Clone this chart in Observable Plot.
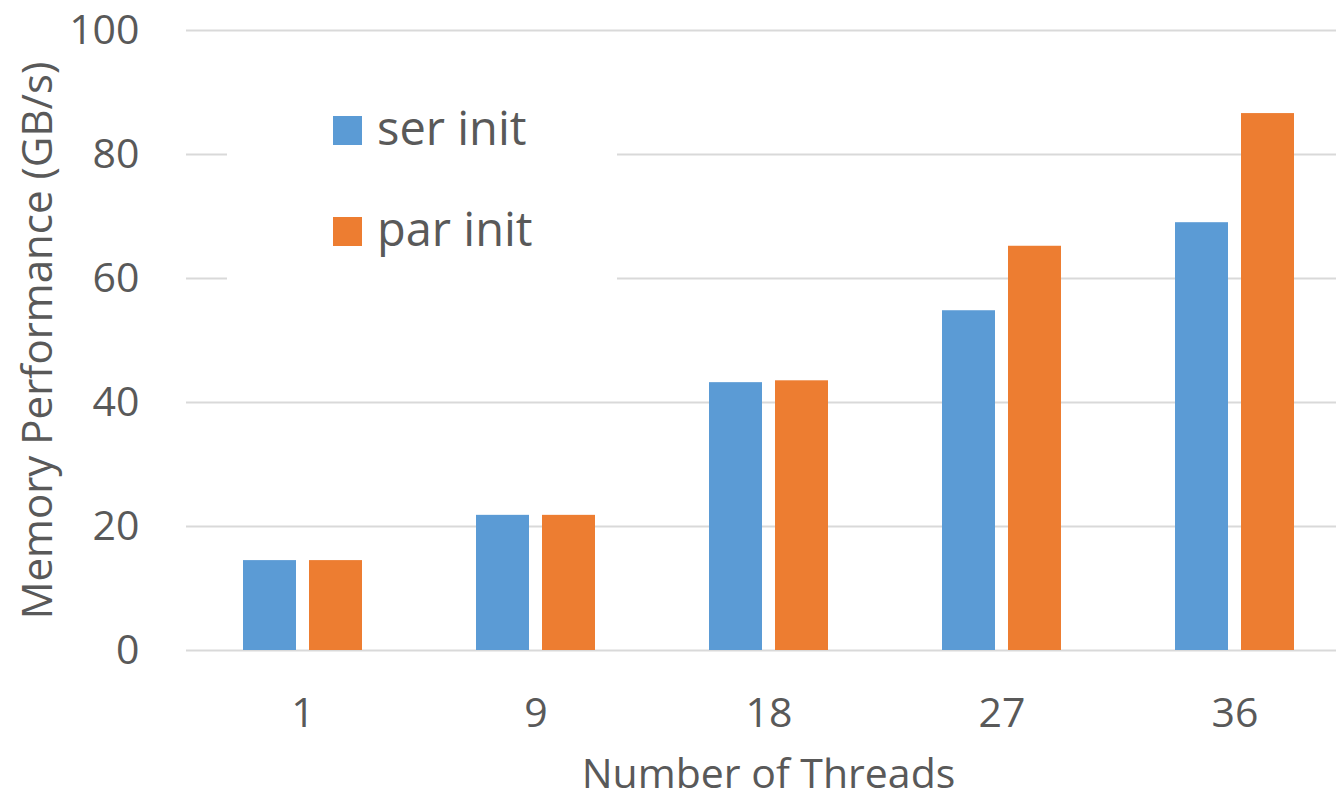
<!DOCTYPE html>
<html>
<head>
<meta charset="utf-8">
<script src="https://cdn.jsdelivr.net/npm/d3@7"></script>
<script src="https://cdn.jsdelivr.net/npm/@observablehq/plot@0.6"></script>
<style>
  html, body { margin: 0; padding: 0; background: #fff; }
  #wrap { position: relative; width: 1336px; height: 797px; overflow: hidden; }
  #legend { position: absolute; left: 0; top: 0; }
</style>
</head>
<body>
<div id="wrap"></div>
<script>
// ---- data ----
const threads = ["1", "9", "18", "27", "36"];
const seriesNames = ["ser init", "par init"];
const serInit = [14.5, 21.8, 43.2, 54.8, 69.0];
const parInit = [14.5, 21.8, 43.5, 65.2, 86.6];
const seriesColors = ["#5B9BD5", "#ED7D31"];
const yTicks = [0, 20, 40, 60, 80, 100];

const serRows = threads.map((t, i) => ({threads: t, series: seriesNames[0], value: serInit[i]}));
const parRows = threads.map((t, i) => ({threads: t, series: seriesNames[1], value: parInit[i]}));

const textColor = "#595959";
const font = "'Open Sans', 'Noto Sans', sans-serif";

const chart = Plot.plot({
  width: 1336,
  height: 797,
  marginLeft: 186,
  marginRight: 0,
  marginTop: 30,
  marginBottom: 147,
  style: {fontFamily: font, fontSize: "41px", color: textColor, background: "#fff"},
  x: {domain: threads, range: [186, 1351], padding: 0, tickSize: 0, tickPadding: 47, label: null},
  y: {domain: [0, 100], ticks: yTicks, tickSize: 0, tickPadding: 47, label: null},
  color: {domain: seriesNames, range: seriesColors},
  marks: [
    Plot.ruleY(yTicks, {stroke: "#d9d9d9", strokeWidth: 2}),
    Plot.barY(serRows, {x: "threads", y: "value", fill: "series", insetLeft: 57, insetRight: 123}),
    Plot.barY(parRows, {x: "threads", y: "value", fill: "series", insetLeft: 123, insetRight: 57}),
    Plot.text(["Number of Threads"], {frameAnchor: "bottom", lineAnchor: "middle", textAnchor: "middle", dx: 7, dy: 124, fontSize: 41, fill: textColor}),
    Plot.text(["Memory Performance (GB/s)"], {frameAnchor: "left", textAnchor: "middle", lineAnchor: "middle", dx: -148, rotate: -90, fontSize: 42, fill: textColor})
  ]
});

const wrap = document.getElementById("wrap");
wrap.appendChild(chart);

// ---- legend overlay ----
const leg = d3.select(wrap).append("svg")
  .attr("id", "legend")
  .attr("width", 1336).attr("height", 797)
  .style("pointer-events", "none");
leg.append("rect")
  .attr("x", 227).attr("y", 70).attr("width", 390).attr("height", 230)
  .attr("fill", "#fff");
const items = leg.selectAll("g.item").data(seriesNames).join("g")
  .attr("class", "item")
  .attr("transform", (d, i) => `translate(333, ${116 + i * 101})`);
items.append("rect")
  .attr("width", 29).attr("height", 29)
  .attr("fill", (d, i) => seriesColors[i]);
items.append("text")
  .attr("x", 44).attr("y", 29)
  .attr("fill", textColor)
  .style("font-family", font)
  .style("font-size", "47px")
  .text(d => d);
</script>
</body>
</html>
